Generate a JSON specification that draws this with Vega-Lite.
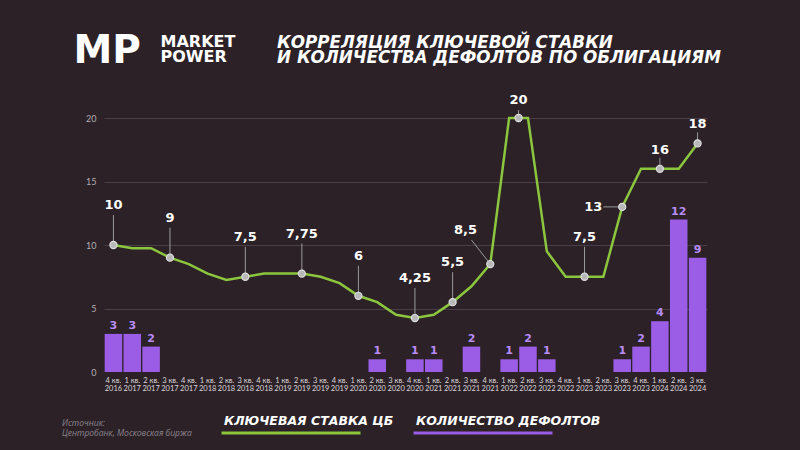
{
  "$schema": "https://vega.github.io/schema/vega-lite/v6.json",
  "width": 603,
  "height": 254,
  "autosize": "none",
  "padding": {"left": 104, "top": 118, "right": 93, "bottom": 78},
  "background": "#2b2127",
  "title": {
    "text": ["КОРРЕЛЯЦИЯ КЛЮЧЕВОЙ СТАВКИ", "И КОЛИЧЕСТВА ДЕФОЛТОВ ПО ОБЛИГАЦИЯМ"],
    "anchor": "start",
    "frame": "group",
    "dx": 173,
    "offset": 0,
    "dy": 36,
    "font": "DejaVu Sans",
    "fontSize": 16.8,
    "fontWeight": "bold",
    "fontStyle": "italic",
    "color": "#ffffff",
    "lineHeight": 15.5
  },
  "config": {
    "view": {"stroke": null},
    "axisX": {
      "labelAngle": 0,
      "labelFont": "Lato",
      "labelFontSize": 7.5,
      "labelColor": "#dcd6da",
      "labelLineHeight": 8.5,
      "labelPadding": 4,
      "labelExpr": "[slice(datum.label,0,5), slice(datum.label,6)]",
      "ticks": false,
      "domain": false,
      "grid": false,
      "titleX": 56,
      "titleY": -326,
      "titleAlign": "left",
      "titleAnchor": null,
      "titleBaseline": "alphabetic",
      "titleFont": "DejaVu Sans",
      "titleFontSize": 16,
      "titleFontWeight": "bold",
      "titleColor": "#ffffff",
      "titleLineHeight": 15
    },
    "axisY": {
      "labelFont": "Lato",
      "labelFontSize": 9,
      "labelColor": "#b5aeb3",
      "labelPadding": 8,
      "ticks": false,
      "domain": false,
      "grid": true,
      "gridColor": "#4a3f48",
      "titleX": -31,
      "titleY": -56,
      "titleAngle": 0,
      "titleAlign": "left",
      "titleAnchor": null,
      "titleBaseline": "alphabetic",
      "titleFont": "DejaVu Sans",
      "titleFontSize": 39,
      "titleFontWeight": "bold",
      "titleColor": "#ffffff"
    }
  },
  "data": {
    "values": [
      {"q": "4 кв. 2016", "rate": 10, "defaults": 3, "label": "10"},
      {"q": "1 кв. 2017", "rate": 9.75, "defaults": 3},
      {"q": "2 кв. 2017", "rate": 9.75, "defaults": 2},
      {"q": "3 кв. 2017", "rate": 9, "defaults": 0, "label": "9"},
      {"q": "4 кв. 2017", "rate": 8.5, "defaults": 0},
      {"q": "1 кв. 2018", "rate": 7.75, "defaults": 0},
      {"q": "2 кв. 2018", "rate": 7.25, "defaults": 0},
      {"q": "3 кв. 2018", "rate": 7.5, "defaults": 0, "label": "7,5"},
      {"q": "4 кв. 2018", "rate": 7.75, "defaults": 0},
      {"q": "1 кв. 2019", "rate": 7.75, "defaults": 0},
      {"q": "2 кв. 2019", "rate": 7.75, "defaults": 0, "label": "7,75"},
      {"q": "3 кв. 2019", "rate": 7.5, "defaults": 0},
      {"q": "4 кв. 2019", "rate": 7, "defaults": 0},
      {"q": "1 кв. 2020", "rate": 6, "defaults": 0, "label": "6"},
      {"q": "2 кв. 2020", "rate": 5.5, "defaults": 1},
      {"q": "3 кв. 2020", "rate": 4.5, "defaults": 0},
      {"q": "4 кв. 2020", "rate": 4.25, "defaults": 1, "label": "4,25"},
      {"q": "1 кв. 2021", "rate": 4.5, "defaults": 1},
      {"q": "2 кв. 2021", "rate": 5.5, "defaults": 0, "label": "5,5"},
      {"q": "3 кв. 2021", "rate": 6.75, "defaults": 2},
      {"q": "4 кв. 2021", "rate": 8.5, "defaults": 0, "label": "8,5", "lq": "3 кв. 2021"},
      {"q": "1 кв. 2022", "rate": 20, "defaults": 1, "label": "20"},
      {"q": "2 кв. 2022", "rate": 20, "defaults": 2},
      {"q": "3 кв. 2022", "rate": 9.5, "defaults": 1},
      {"q": "4 кв. 2022", "rate": 7.5, "defaults": 0},
      {"q": "1 кв. 2023", "rate": 7.5, "defaults": 0, "label": "7,5"},
      {"q": "2 кв. 2023", "rate": 7.5, "defaults": 0},
      {"q": "3 кв. 2023", "rate": 13, "defaults": 1, "label": "13", "lq": "2 кв. 2023"},
      {"q": "4 кв. 2023", "rate": 16, "defaults": 2},
      {"q": "1 кв. 2024", "rate": 16, "defaults": 4, "label": "16"},
      {"q": "2 кв. 2024", "rate": 16, "defaults": 12},
      {"q": "3 кв. 2024", "rate": 18, "defaults": 9, "label": "18"}
    ]
  },
  "encoding": {
    "x": {
      "field": "q",
      "type": "nominal",
      "sort": null,
      "scale": {
        "domain": ["4 кв. 2016", "1 кв. 2017", "2 кв. 2017", "3 кв. 2017", "4 кв. 2017", "1 кв. 2018", "2 кв. 2018", "3 кв. 2018", "4 кв. 2018", "1 кв. 2019", "2 кв. 2019", "3 кв. 2019", "4 кв. 2019", "1 кв. 2020", "2 кв. 2020", "3 кв. 2020", "4 кв. 2020", "1 кв. 2021", "2 кв. 2021", "3 кв. 2021", "4 кв. 2021", "1 кв. 2022", "2 кв. 2022", "3 кв. 2022", "4 кв. 2022", "1 кв. 2023", "2 кв. 2023", "3 кв. 2023", "4 кв. 2023", "1 кв. 2024", "2 кв. 2024", "3 кв. 2024"],
        "paddingInner": 0,
        "paddingOuter": 0
      },
      "title": ["MARKET", "POWER"]
    }
  },
  "layer": [
    {
      "transform": [{"filter": "datum.defaults > 0"}],
      "mark": {"type": "bar", "color": "#9b5de5", "width": {"band": 0.93}},
      "encoding": {
        "y": {
          "field": "defaults",
          "type": "quantitative",
          "scale": {"domain": [0, 20], "nice": false},
          "title": "MP",
          "axis": {
            "values": [0, 5, 10, 15, 20],
            "gridOpacity": {"condition": {"test": "datum.value === 0", "value": 0}, "value": 1}
          }
        }
      }
    },
    {
      "transform": [{"filter": "datum.defaults > 0"}],
      "mark": {"type": "text", "baseline": "bottom", "dy": -3, "font": "DejaVu Sans", "fontWeight": "bold", "fontSize": 11, "color": "#b88cf6"},
      "encoding": {
        "y": {"field": "defaults", "type": "quantitative", "title": "MP"},
        "text": {"field": "defaults", "type": "quantitative"}
      }
    },
    {
      "mark": {"type": "line", "strokeWidth": 2.5, "interpolate": "linear"},
      "encoding": {
        "y": {"field": "rate", "type": "quantitative", "title": "MP"},
        "color": {
          "datum": "КЛЮЧЕВАЯ СТАВКА ЦБ",
          "type": "nominal",
          "scale": {"domain": ["КЛЮЧЕВАЯ СТАВКА ЦБ", "КОЛИЧЕСТВО ДЕФОЛТОВ"], "range": ["#8cc63e", "#9b5de5"]},
          "legend": {
            "orient": "none",
            "legendX": -42,
            "legendY": 291,
            "direction": "horizontal",
            "padding": 0,
            "title": ["Источник:", "Центробанк, Московская биржа"],
            "titleOrient": "left",
            "titleFont": "Open Sans",
            "titleFontSize": 8.5,
            "titleFontStyle": "italic",
            "titleFontWeight": "normal",
            "titleColor": "#8d848b",
            "titleLineHeight": 10,
            "titlePadding": 28,
            "titleBaseline": "top",
            "titleAlign": "left",
            "symbolType": "M-1,1.25H12.9",
            "symbolSize": 400,
            "symbolStrokeWidth": 3,
            "labelFont": "DejaVu Sans",
            "labelFontSize": 12.5,
            "labelFontWeight": "bold",
            "labelFontStyle": "italic",
            "labelColor": "#ffffff",
            "labelOffset": -19,
            "labelLimit": 400,
            "columnPadding": 13
          }
        }
      }
    },
    {
      "transform": [{"filter": "isValid(datum.label) && indexof(['16','18','20','8,5','13'], datum.label) < 0"}],
      "layer": [
        {
          "mark": {"type": "rule", "color": "#9a9a9a", "strokeWidth": 1, "y2Offset": -30},
          "encoding": {
            "y": {"field": "rate", "type": "quantitative", "title": "MP"},
            "y2": {"field": "rate"}
          }
        },
        {
          "mark": {"type": "text", "dy": -40, "baseline": "middle", "font": "DejaVu Sans", "fontWeight": "bold", "fontSize": 13, "color": "#ffffff"},
          "encoding": {
            "y": {"field": "rate", "type": "quantitative", "title": "MP"},
            "text": {"field": "label"}
          }
        }
      ]
    },
    {
      "transform": [{"filter": "indexof(['16','18'], datum.label) >= 0"}],
      "layer": [
        {
          "mark": {"type": "rule", "color": "#9a9a9a", "strokeWidth": 1, "y2Offset": -11},
          "encoding": {
            "y": {"field": "rate", "type": "quantitative", "title": "MP"},
            "y2": {"field": "rate"}
          }
        },
        {
          "mark": {"type": "text", "dy": -19, "baseline": "middle", "font": "DejaVu Sans", "fontWeight": "bold", "fontSize": 13, "color": "#ffffff"},
          "encoding": {
            "y": {"field": "rate", "type": "quantitative", "title": "MP"},
            "text": {"field": "label"}
          }
        }
      ]
    },
    {
      "transform": [{"filter": "datum.label === '8,5'"}],
      "layer": [
        {
          "mark": {"type": "rule", "color": "#9a9a9a", "strokeWidth": 1, "y2Offset": -24},
          "encoding": {
            "x2": {"field": "lq"},
            "y": {"field": "rate", "type": "quantitative", "title": "MP"},
            "y2": {"field": "rate"}
          }
        },
        {
          "mark": {"type": "text", "dy": -34, "dx": -6, "baseline": "middle", "font": "DejaVu Sans", "fontWeight": "bold", "fontSize": 13, "color": "#ffffff"},
          "encoding": {
            "x": {"field": "lq", "type": "nominal", "title": ["MARKET", "POWER"]},
            "y": {"field": "rate", "type": "quantitative", "title": "MP"},
            "text": {"field": "label"}
          }
        }
      ]
    },
    {
      "transform": [{"filter": "datum.label === '13'"}],
      "layer": [
        {
          "mark": {"type": "rule", "color": "#9a9a9a", "strokeWidth": 1},
          "encoding": {
            "x2": {"field": "lq"},
            "y": {"field": "rate", "type": "quantitative", "title": "MP"}
          }
        },
        {
          "mark": {"type": "text", "align": "right", "dx": -1, "baseline": "middle", "font": "DejaVu Sans", "fontWeight": "bold", "fontSize": 13, "color": "#ffffff"},
          "encoding": {
            "x": {"field": "lq", "type": "nominal", "title": ["MARKET", "POWER"]},
            "y": {"field": "rate", "type": "quantitative", "title": "MP"},
            "text": {"field": "label"}
          }
        }
      ]
    },
    {
      "transform": [{"filter": "isValid(datum.label) && datum.label !== '20'"}],
      "mark": {"type": "point", "shape": "circle", "filled": true, "size": 50, "fill": "#b8b8b8", "stroke": "#e0e0e0", "strokeWidth": 1.2, "opacity": 1},
      "encoding": {
        "y": {"field": "rate", "type": "quantitative", "title": "MP"}
      }
    },
    {
      "transform": [{"filter": "datum.label === '20'"}],
      "encoding": {
        "x": {"field": "q", "type": "nominal", "bandPosition": 1, "title": ["MARKET", "POWER"]}
      },
      "layer": [
        {
          "mark": {"type": "rule", "color": "#9a9a9a", "strokeWidth": 1, "y2Offset": -8},
          "encoding": {
            "y": {"field": "rate", "type": "quantitative", "title": "MP"},
            "y2": {"field": "rate"}
          }
        },
        {
          "mark": {"type": "point", "shape": "circle", "filled": true, "size": 50, "fill": "#b8b8b8", "stroke": "#e0e0e0", "strokeWidth": 1.2, "opacity": 1},
          "encoding": {
            "y": {"field": "rate", "type": "quantitative", "title": "MP"}
          }
        },
        {
          "mark": {"type": "text", "dy": -18, "baseline": "middle", "font": "DejaVu Sans", "fontWeight": "bold", "fontSize": 13, "color": "#ffffff"},
          "encoding": {
            "y": {"field": "rate", "type": "quantitative", "title": "MP"},
            "text": {"field": "label"}
          }
        }
      ]
    }
  ]
}
